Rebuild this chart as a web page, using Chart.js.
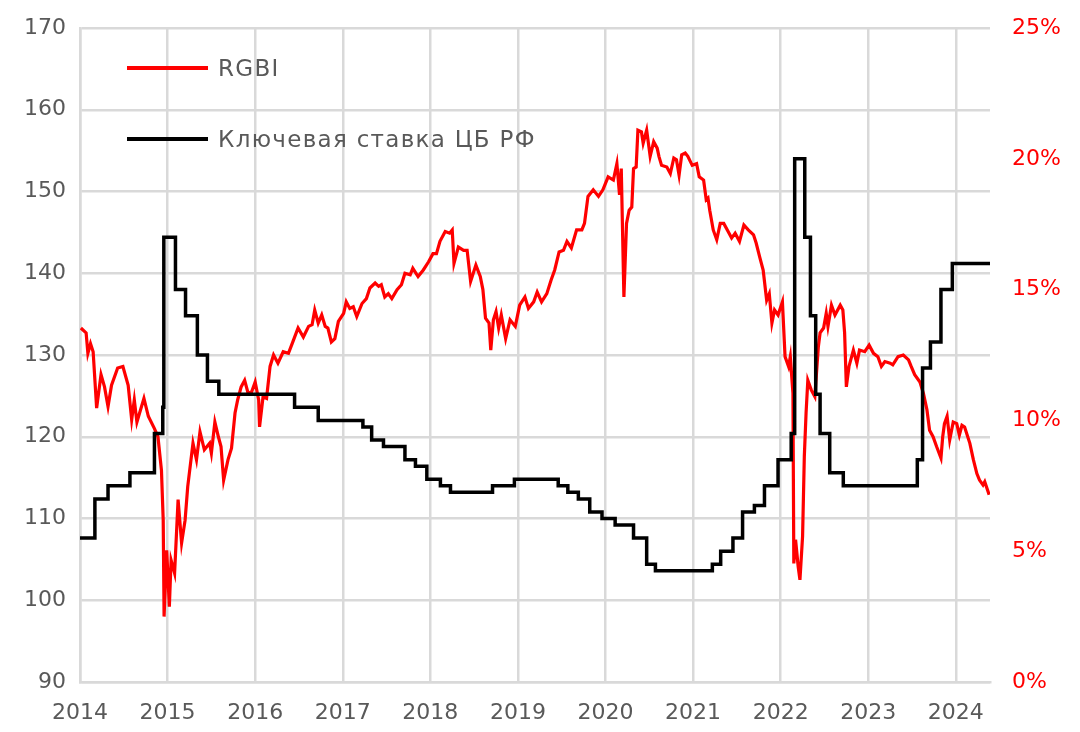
<!DOCTYPE html>
<html>
<head>
<meta charset="utf-8">
<script src="https://cdn.jsdelivr.net/npm/chart.js@4.4.1/dist/chart.umd.min.js"></script>
<style>
  body { margin: 0; background: #fff; }
  #wrap { position: relative; width: 1080px; height: 732px; }
  .leg { position: absolute; left: 127px; font-family: 'DejaVu Sans', sans-serif; font-size: 23px; letter-spacing: 1.3px; color: #595959; white-space: nowrap; }
  .leg span { display: inline-block; width: 81px; height: 4px; vertical-align: middle; margin-right: 10px; position: relative; top: -2px; }
</style>
</head>
<body>
<div id="wrap">
  <canvas id="rgbiChart" width="1080" height="732"></canvas>
  <div class="leg" style="top:55px"><span style="background:#ff0000"></span>RGBI</div>
  <div class="leg" style="top:126px"><span style="background:#000000"></span>Ключевая ставка ЦБ РФ</div>
</div>
<script>
// RGBI, читали с картинки (год в долях)
const rgbiYears = [
  2014.01, 2014.07, 2014.09, 2014.12, 2014.15, 2014.19, 2014.24, 2014.28, 2014.32, 2014.36,
  2014.43, 2014.49, 2014.55, 2014.59, 2014.62, 2014.65, 2014.73, 2014.78, 2014.85, 2014.89,
  2014.93, 2014.95, 2014.96, 2014.99, 2015.02, 2015.04, 2015.08, 2015.12, 2015.16, 2015.20,
  2015.23, 2015.29, 2015.33, 2015.37, 2015.42, 2015.48, 2015.50, 2015.54, 2015.58, 2015.61,
  2015.64, 2015.69, 2015.73, 2015.77, 2015.80, 2015.84, 2015.88, 2015.92, 2015.96, 2016.00,
  2016.04, 2016.05, 2016.09, 2016.13, 2016.17, 2016.21, 2016.26, 2016.32, 2016.38, 2016.43,
  2016.49, 2016.55, 2016.61, 2016.65, 2016.68, 2016.72, 2016.76, 2016.80, 2016.83, 2016.87,
  2016.91, 2016.95, 2017.01, 2017.04, 2017.08, 2017.12, 2017.16, 2017.22, 2017.27, 2017.31,
  2017.37, 2017.41, 2017.44, 2017.48, 2017.52, 2017.56, 2017.62, 2017.67, 2017.71, 2017.77,
  2017.80, 2017.86, 2017.92, 2017.98, 2018.03, 2018.07, 2018.11, 2018.17, 2018.22, 2018.25,
  2018.27, 2018.32, 2018.38, 2018.42, 2018.46, 2018.52, 2018.57, 2018.60, 2018.63, 2018.67,
  2018.69, 2018.72, 2018.75, 2018.78, 2018.81, 2018.86, 2018.91, 2018.97, 2019.02, 2019.08,
  2019.12, 2019.18, 2019.22, 2019.27, 2019.33, 2019.38, 2019.42, 2019.47, 2019.52, 2019.56,
  2019.61, 2019.67, 2019.73, 2019.76, 2019.80, 2019.86, 2019.92, 2019.97, 2020.03, 2020.09,
  2020.13, 2020.16, 2020.18, 2020.21, 2020.24, 2020.27, 2020.30, 2020.32, 2020.35, 2020.37,
  2020.41, 2020.43, 2020.47, 2020.51, 2020.55, 2020.59, 2020.61, 2020.64, 2020.70, 2020.74,
  2020.78, 2020.81, 2020.84, 2020.87, 2020.91, 2020.94, 2020.99, 2021.04, 2021.07, 2021.12,
  2021.15, 2021.17, 2021.19, 2021.23, 2021.27, 2021.31, 2021.35, 2021.40, 2021.44, 2021.48,
  2021.53, 2021.58, 2021.63, 2021.69, 2021.72, 2021.76, 2021.80, 2021.84, 2021.87, 2021.90,
  2021.93, 2021.97, 2022.02, 2022.05, 2022.09, 2022.11, 2022.14, 2022.15, 2022.17, 2022.20,
  2022.22, 2022.25, 2022.27, 2022.29, 2022.31, 2022.35, 2022.39, 2022.43, 2022.45, 2022.49,
  2022.52, 2022.54, 2022.58, 2022.62, 2022.68, 2022.71, 2022.73, 2022.75, 2022.78, 2022.83,
  2022.87, 2022.90, 2022.96, 2023.01, 2023.06, 2023.11, 2023.15, 2023.19, 2023.25, 2023.28,
  2023.34, 2023.40, 2023.46, 2023.49, 2023.53, 2023.59, 2023.63, 2023.67, 2023.70, 2023.74,
  2023.78, 2023.83, 2023.85, 2023.87, 2023.90, 2023.93, 2023.97, 2024.01, 2024.04, 2024.07,
  2024.10, 2024.16, 2024.20, 2024.24, 2024.27, 2024.31, 2024.33, 2024.38
];
const rgbiValues = [
  133.3, 132.7, 130.2, 131.4, 130.4, 123.5, 127.6, 126.1, 123.7, 126.3,
  128.4, 128.6, 126.3, 122.1, 124.5, 121.8, 124.7, 122.5, 121.0, 120.0,
  115.9, 109.8, 98.0, 106.1, 99.2, 104.9, 103.3, 112.3, 107.0, 109.8,
  113.9, 119.2, 117.2, 120.6, 118.4, 119.2, 118.0, 121.8, 120.0, 118.8,
  114.7, 117.2, 118.6, 122.9, 124.5, 126.1, 126.9, 125.3, 125.5, 126.7,
  124.5, 121.2, 124.9, 124.7, 128.6, 130.0, 129.0, 130.4, 130.2, 131.6,
  133.3, 132.2, 133.5, 133.7, 135.5, 133.9, 134.9, 133.5, 133.3, 131.6,
  132.0, 134.1, 135.1, 136.5, 135.7, 135.9, 134.7, 136.3, 136.9, 138.2,
  138.8, 138.4, 138.6, 137.1, 137.5, 136.9, 138.0, 138.6, 140.0, 139.8,
  140.6, 139.6, 140.4, 141.4, 142.4, 142.4, 143.9, 145.1, 144.9, 145.3,
  141.2, 143.2, 142.8, 142.8, 139.0, 141.0, 139.6, 138.0, 134.5, 133.9,
  130.6, 134.3, 135.3, 133.3, 134.9, 132.0, 134.3, 133.5, 136.1, 137.1,
  135.7, 136.5, 137.7, 136.5, 137.5, 139.2, 140.4, 142.6, 142.8, 143.9,
  143.1, 145.3, 145.3, 146.1, 149.4, 150.2, 149.4, 150.2, 151.8, 151.4,
  153.4, 149.6, 152.8, 137.1, 146.1, 147.7, 148.1, 152.8, 153.0, 157.5,
  157.3, 155.9, 157.5, 154.3, 156.1, 155.3, 154.3, 153.2, 153.0, 152.2,
  154.1, 153.9, 152.0, 154.5, 154.7, 154.3, 153.2, 153.4, 151.8, 151.4,
  149.0, 149.2, 147.7, 145.3, 144.1, 146.1, 146.1, 145.1, 144.3, 144.9,
  143.9, 145.9, 145.3, 144.7, 143.7, 142.0, 140.4, 136.7, 137.5, 133.9,
  135.5, 134.9, 136.5, 129.8, 128.6, 129.8, 125.3, 104.5, 107.4, 104.1,
  102.5, 107.8, 117.6, 122.9, 126.9, 125.7, 124.9, 131.0, 132.7, 133.3,
  135.1, 133.5, 136.1, 134.9, 136.1, 135.5, 132.7, 126.1, 128.6, 130.6,
  129.0, 130.6, 130.4, 131.2, 130.2, 129.8, 128.6, 129.2, 129.0, 128.8,
  129.8, 130.0, 129.4, 128.6, 127.6, 126.7, 125.3, 123.3, 120.8, 120.0,
  118.8, 117.4, 120.0, 121.6, 122.5, 119.6, 121.8, 121.6, 120.2, 121.4,
  121.2, 119.2, 117.2, 115.5, 114.7, 114.1, 114.5, 112.9
];

// ключевая ставка ЦБ РФ, дата изменения -> новая ставка, %
const keyYears = [
  2014.00, 2014.17, 2014.32, 2014.57, 2014.85, 2014.945, 2014.957, 2015.09, 2015.205, 2015.34,
  2015.455, 2015.585, 2016.45, 2016.72, 2017.23, 2017.33, 2017.465, 2017.71, 2017.83, 2017.96,
  2018.115, 2018.23, 2018.71, 2018.96, 2019.46, 2019.57, 2019.69, 2019.82, 2019.96, 2020.11,
  2020.32, 2020.47, 2020.57, 2021.22, 2021.315, 2021.455, 2021.565, 2021.70, 2021.815, 2021.97,
  2022.12, 2022.16, 2022.275, 2022.34, 2022.40, 2022.45, 2022.56, 2022.715, 2023.56, 2023.62,
  2023.71, 2023.83, 2023.96, 2024.39
];
const keyRates = [
  5.5, 7, 7.5, 8, 9.5, 10.5, 17, 15, 14, 12.5,
  11.5, 11, 10.5, 10, 9.75, 9.25, 9, 8.5, 8.25, 7.75,
  7.5, 7.25, 7.5, 7.75, 7.5, 7.25, 7, 6.5, 6.25, 6,
  5.5, 4.5, 4.25, 4.5, 5, 5.5, 6.5, 6.75, 7.5, 8.5,
  9.5, 20, 17, 14, 11, 9.5, 8, 7.5, 8.5, 12,
  13, 15, 16, 16
];

const leftTicks = [90, 170, 10];
const rightTicks = [0, 25, 5];
const yearRange = [2014, 2024.39];

const gridColor = '#d9d9d9';
const textGray = '#595959';

Chart.defaults.font.family = "'DejaVu Sans', sans-serif";
Chart.defaults.font.size = 22;
Chart.defaults.color = textGray;

// метки не должны сдвигать область графика
function noPad(s) {
  s.paddingTop = 0;
  s.paddingBottom = 0;
  s.paddingLeft = 0;
  s.paddingRight = 0;
}

const ctx = document.getElementById('rgbiChart').getContext('2d');

new Chart(ctx, {
  type: 'line',
  data: {
    datasets: [
      {
        label: 'Ключевая ставка ЦБ РФ',
        data: keyYears.map((x, i) => ({ x: x, y: keyRates[i] })),
        yAxisID: 'y1',
        borderColor: '#000000',
        borderWidth: 3.5,
        stepped: true,
        pointRadius: 0,
        order: 1
      },
      {
        label: 'RGBI',
        data: rgbiYears.map((x, i) => ({ x: x, y: rgbiValues[i] })),
        yAxisID: 'y',
        borderColor: '#ff0000',
        borderWidth: 3.2,
        pointRadius: 0,
        tension: 0,
        order: 2
      }
    ]
  },
  options: {
    responsive: false,
    animation: false,
    layout: { padding: { top: 28, left: 0, right: 0, bottom: 0 } },
    plugins: {
      legend: { display: false },
      tooltip: { enabled: false }
    },
    scales: {
      x: {
        type: 'linear',
        min: yearRange[0],
        max: yearRange[1],
        afterFit: (s) => { s.height = 50; noPad(s); },
        grid: { color: gridColor, lineWidth: 2.5, drawTicks: false },
        border: { color: gridColor, width: 2.5 },
        ticks: {
          stepSize: 1,
          includeBounds: false,
          autoSkip: false,
          maxRotation: 0,
          padding: 18,
          color: textGray,
          callback: (v) => Number.isInteger(Math.round(v * 1000) / 1000) ? String(Math.round(v)) : ''
        }
      },
      y: {
        position: 'left',
        min: leftTicks[0],
        max: leftTicks[1],
        afterFit: (s) => { s.width = 80; noPad(s); },
        grid: { color: gridColor, lineWidth: 2.5, drawTicks: false },
        border: { color: gridColor, width: 2.5 },
        ticks: { stepSize: leftTicks[2], padding: 14, color: textGray }
      },
      y1: {
        position: 'right',
        min: rightTicks[0],
        max: rightTicks[1],
        afterFit: (s) => { s.width = 90; noPad(s); },
        grid: { display: false, drawTicks: false },
        border: { display: false },
        ticks: {
          stepSize: rightTicks[2],
          padding: 22,
          color: '#ff0000',
          callback: (v) => v + '%'
        }
      }
    }
  }
});
</script>
</body>
</html>
